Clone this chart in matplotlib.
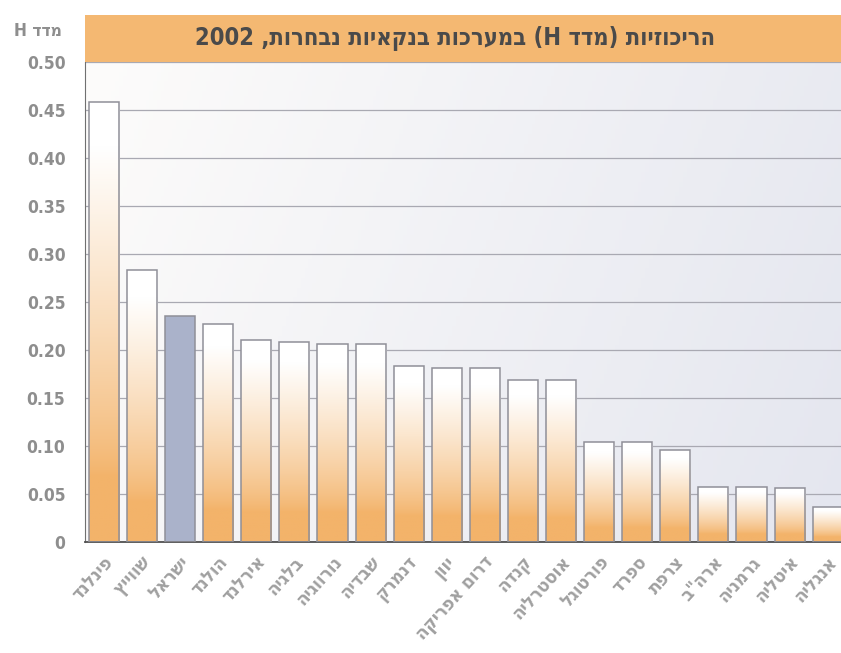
import re
import numpy as np
import matplotlib
matplotlib.use("Agg")
import matplotlib.pyplot as plt
import matplotlib.transforms as mtransforms
from matplotlib.patches import Rectangle
from matplotlib.colors import to_rgb

# נתונים: מדד H לריכוזיות במערכות בנקאיות, 2002
countries = ['פינלנד', 'שווייץ', 'ישראל', 'הולנד', 'אירלנד', 'בלגיה', 'נורווגיה',
             'שבדיה', 'דנמרק', 'יוון', 'דרום אפריקה', 'קנדה', 'אוסטרליה', 'פורטוגל',
             'ספרד', 'צרפת', 'ארה"ב', 'גרמניה', 'איטליה', 'אנגליה']
h_index = [0.458, 0.283, 0.235, 0.227, 0.210, 0.208, 0.206, 0.206, 0.183, 0.181,
           0.181, 0.169, 0.169, 0.104, 0.104, 0.096, 0.057, 0.057, 0.056, 0.036]
highlight = 'ישראל'
yticks = [0, 0.05, 0.10, 0.15, 0.20, 0.25, 0.30, 0.35, 0.40, 0.45, 0.50]
title = 'הריכוזיות (מדד H) במערכות בנקאיות נבחרות, 2002'
ylabel = 'מדד H'


def rtl(s):
    # matplotlib draws left to right, so put the Hebrew in visual order
    r = s[::-1]
    r = re.sub(r'[A-Za-z0-9.]+', lambda m: m.group(0)[::-1], r)
    return r.translate(str.maketrans('()', ')('))


plt.rcParams['font.family'] = ['DejaVu Sans']
plt.rcParams['font.stretch'] = 'condensed'

ORANGE = '#f3b36a'
ISRAEL = '#aab2ca'
GREY_TXT = '#8e8e8e'

fig = plt.figure(figsize=(8.41, 6.53), dpi=100)
ax = fig.add_axes([0.101, 0.170, 0.899, 0.735])

# רקע מדורג
nx, ny = 200, 100
gx = np.linspace(0, 1, nx)[None, :]
gy = np.linspace(0, 1, ny)[:, None]  # 0 = top
c_left = np.array(to_rgb('#fdfcfb'))
c_right = np.array(to_rgb('#e4e6ef'))
t = np.clip(gx * 0.8 + gy * 0.2, 0, 1)
bg = c_left[None, None, :] * (1 - t[..., None]) + c_right[None, None, :] * t[..., None]
ax.imshow(bg, extent=[0, 1, 0, 1], transform=ax.transAxes, aspect='auto',
          origin='upper', zorder=0)

x = np.arange(len(countries))
bars = ax.bar(x, h_index, width=0.79, facecolor='none', edgecolor='#8f8f98',
              linewidth=1.1, zorder=3)

# מילוי מדורג לעמודות
n = 256
tt = np.linspace(0, 1, n)  # 0 = bottom, 1 = top
w = np.clip((tt - 0.15) / 0.75, 0, 1) ** 0.8
w = w[:, None]
orange = np.array(to_rgb(ORANGE))
grad = orange[None, :] * (1 - w) + np.ones(3)[None, :] * w
grad = grad[:, None, :]
for name, bar in zip(countries, bars):
    x0 = bar.get_x()
    if name == highlight:
        ax.bar(x0 + bar.get_width() / 2, bar.get_height(), width=bar.get_width(),
               color=ISRAEL, zorder=2)
        continue
    im = ax.imshow(grad, extent=[x0, x0 + bar.get_width(), 0, bar.get_height()],
                   origin='lower', aspect='auto', zorder=2)
    im.set_clip_path(bar)

ax.set_xlim(-0.5, 19.35)
ax.set_ylim(0, 0.5)
ax.set_aspect('auto')

ax.set_yticks(yticks)
ax.set_yticklabels(['0' if v == 0 else f'{v:.2f}' for v in yticks],
                   fontsize=12.5, fontweight='bold', color=GREY_TXT)
ax.yaxis.grid(True, color='#a9a9b2', linewidth=0.9, zorder=1)
ax.set_axisbelow(True)
ax.tick_params(axis='y', length=0, pad=14)

ax.set_xticks(x)
ax.set_xticklabels([rtl(c) for c in countries], rotation=48, ha='right',
                   va='center', rotation_mode='anchor', fontsize=13.5,
                   fontweight='bold', color='#a0a0a0')
ax.tick_params(axis='x', length=0, pad=12)
offset = mtransforms.ScaledTranslation(6 / 100, 0, fig.dpi_scale_trans)
for lab in ax.get_xticklabels():
    lab.set_transform(lab.get_transform() + offset)

for side in ['top', 'right']:
    ax.spines[side].set_visible(False)
ax.spines['left'].set_color('#707070')
ax.spines['bottom'].set_color('#505050')
ax.spines['bottom'].set_linewidth(1.3)

# פס הכותרת
fig.add_artist(Rectangle((0.101, 0.905), 0.899, 0.072, transform=fig.transFigure,
                         facecolor='#f4b872', edgecolor='none'))
fig.text(0.541, 0.941, rtl(title), ha='center', va='center', fontsize=17,
         fontweight='bold', color='#4a4a4a')
fig.text(0.045, 0.952, rtl(ylabel), ha='center', va='center', fontsize=12.5,
         fontweight='bold', color=GREY_TXT)

fig.savefig('out.png', dpi=100)
